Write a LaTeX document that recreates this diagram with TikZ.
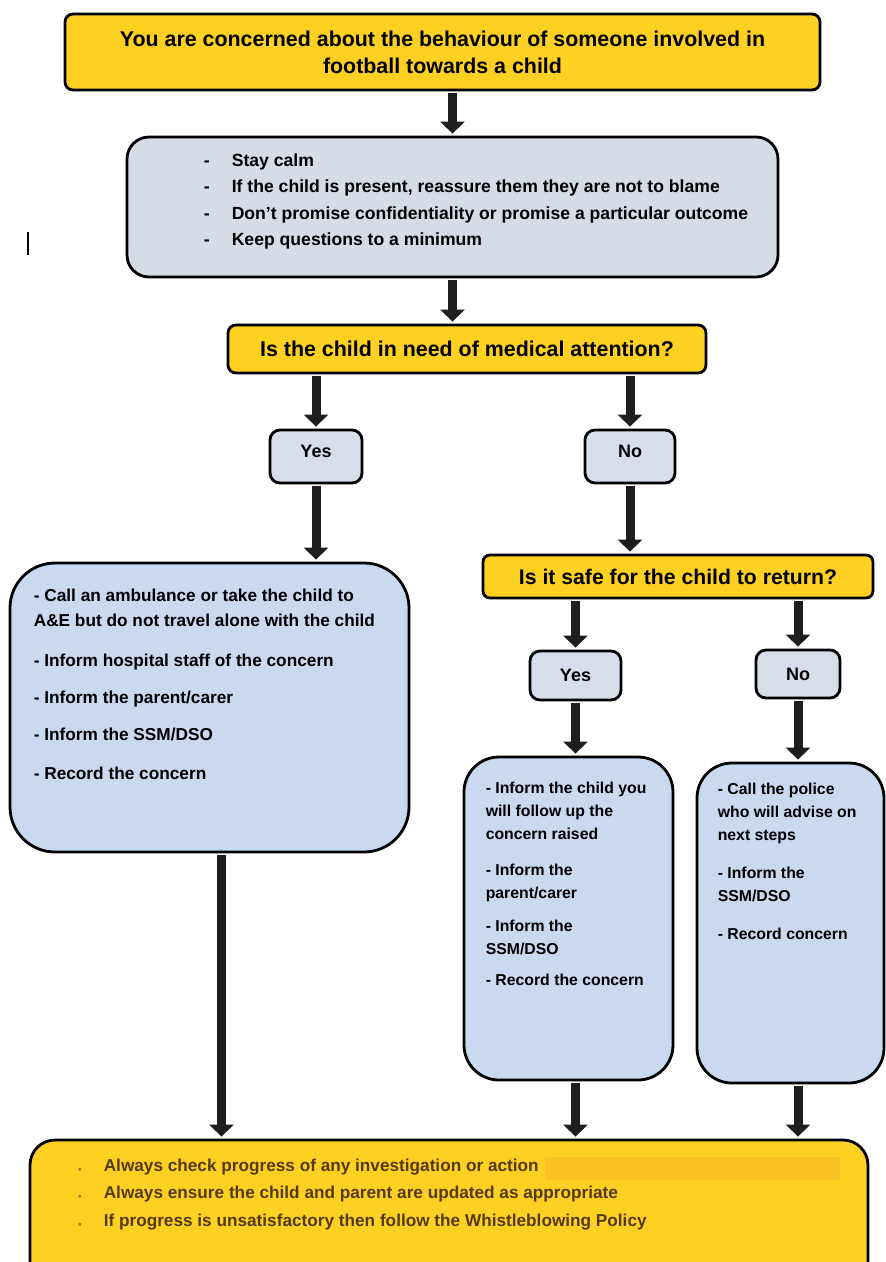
\documentclass[tikz,border=0pt]{standalone}
\usepackage{fontspec}
\setmainfont{Liberation Sans}
\usetikzlibrary{arrows.meta,positioning}
\definecolor{fayellow}{RGB}{254,208,34}
\definecolor{calmgrey}{RGB}{213,220,230}
\definecolor{stepblue}{RGB}{200,217,240}
\definecolor{answergrey}{RGB}{214,222,235}
\definecolor{arrowblack}{RGB}{30,30,30}
\definecolor{notebrown}{RGB}{85,58,22}
\definecolor{notebullet}{RGB}{205,95,25}
\definecolor{notemark}{RGB}{248,194,36}

\begin{document}
\begin{tikzpicture}[x=1pt, y=-1pt, font=\bfseries,
    shape box/.style={draw=black, line width=2.8pt, inner sep=0pt},
    question/.style={shape box, fill=fayellow, rounded corners=8pt},
    answer/.style={shape box, fill=answergrey, rounded corners=10pt, font=\bfseries\fontsize{18}{20}\selectfont},
    action/.style={shape box, fill=stepblue},
    boxtext/.style={anchor=north west, inner sep=0pt, align=left},
    flow/.style={-{Triangle[width=24pt,length=12pt]}, line width=9pt, color=arrowblack,
        shorten <=2pt, shorten >=2pt}]
    \useasboundingbox (0,0) rectangle (886,1262);
    \clip (0,0) rectangle (886,1262);
    \fill[white] (0,0) rectangle (886,1262);

    % concern and first steps
    \node [question, minimum width=755pt, minimum height=76pt, align=center,
        font=\bfseries\fontsize{21.4}{27}\selectfont] (concern) at (442.5,52)
        {You are concerned about the behaviour of someone involved in\\football towards a child};
    \node [shape box, fill=calmgrey, rounded corners=22pt, minimum width=651pt, minimum height=140pt] (calm) at (452.5,207) {};
    \node [boxtext, font=\bfseries\fontsize{17.6}{26.4}\selectfont] (calmtext) at ([xshift=78pt, yshift=-18pt]calm.north west)
        {\makebox[28pt][l]{-}Stay calm\\
         \makebox[28pt][l]{-}If the child is present, reassure them they are not to blame\\
         \makebox[28pt][l]{-}Don't promise confidentiality or promise a particular outcome\\
         \makebox[28pt][l]{-}Keep questions to a minimum};
    \draw [line width=2.5pt] (28,232) -- (28,255);

    % medical attention
    \node [question, minimum width=478pt, minimum height=48pt,
        font=\bfseries\fontsize{21.4}{24}\selectfont] (medical) at (467,349) {Is the child in need of medical attention?};
    \node [answer, minimum width=92pt, minimum height=53pt] (yes1) at (316,456.5) {\raisebox{10pt}{Yes}};
    \node [answer, minimum width=90pt, minimum height=53pt] (no1) at (630,456.5) {\raisebox{10pt}{No}};

    \node [action, rounded corners=45pt, minimum width=399pt, minimum height=289pt] (hospital) at (209.5,707.5) {};
    \node [boxtext, font=\bfseries\fontsize{17.25}{25}\selectfont] (hospitaltext) at ([xshift=25pt, yshift=-27pt]hospital.north west)
        {- Call an ambulance or take the child to\\
         A\&E but do not travel alone with the child\\[15pt]
         - Inform hospital staff of the concern\\[12pt]
         - Inform the parent/carer\\[12pt]
         - Inform the SSM/DSO\\[14pt]
         - Record the concern};

    % safe to return
    \node [question, rounded corners=7pt, minimum width=390pt, minimum height=43pt,
        font=\bfseries\fontsize{21.2}{24}\selectfont] (safe) at (678,576.5) {Is it safe for the child to return?};
    \node [answer, minimum width=91pt, minimum height=49pt] (yes2) at (575.5,675.5) {\raisebox{-1pt}{Yes}};
    \node [answer, minimum width=84pt, minimum height=48pt] (no2) at (798,674) {\raisebox{-1pt}{No}};

    \node [action, rounded corners=35pt, minimum width=209pt, minimum height=323pt] (followup) at (568.5,918.5) {};
    \node [boxtext, font=\bfseries\fontsize{15.8}{23}\selectfont] (followuptext) at ([xshift=23pt, yshift=-26pt]followup.north west)
        {- Inform the child you\\
         will follow up the\\
         concern raised\\[13pt]
         - Inform the\\
         parent/carer\\[10pt]
         - Inform the\\
         SSM/DSO\\[8pt]
         - Record the concern};
    \node [action, rounded corners=35pt, minimum width=187pt, minimum height=320pt] (police) at (790.5,923) {};
    \node [boxtext, font=\bfseries\fontsize{15.8}{23}\selectfont] (policetext) at ([xshift=22pt, yshift=-21pt]police.north west)
        {- Call the police\\
         who will advise on\\
         next steps\\[15pt]
         - Inform the\\
         SSM/DSO\\[15pt]
         - Record concern};

    % always
    \node [question, rounded corners=25pt, minimum width=838pt, minimum height=150pt] (always) at (449,1215) {};
    \fill [notemark] (545,1157) rectangle (840,1180);
    \node [boxtext, text=notebrown, font=\bfseries\fontsize{17.2}{27.5}\selectfont] (alwaystext) at ([xshift=49pt, yshift=-20pt]always.north west)
        {\makebox[26pt][l]{\textcolor{notebullet}{\scriptsize$\bullet$}}Always check progress of any investigation or action\\
         \makebox[26pt][l]{\textcolor{notebullet}{\scriptsize$\bullet$}}Always ensure the child and parent are updated as appropriate\\
         \makebox[26pt][l]{\textcolor{notebullet}{\scriptsize$\bullet$}}If progress is unsatisfactory then follow the Whistleblowing Policy};

    \path [flow] (concern.south -| calm.north) edge (calm.north);
    \path [flow] (calm.south) edge (calm.south |- medical.north);
    \path [flow] (medical.south -| yes1) edge (yes1.north);
    \path [flow] (medical.south -| no1) edge (no1.north);
    \path [flow] (yes1.south) edge (yes1.south |- hospital.north);
    \path [flow] (no1.south) edge (no1.south |- safe.north);
    \path [flow] (safe.south -| yes2) edge (yes2.north);
    \path [flow] (safe.south -| no2) edge (no2.north);
    \path [flow] (yes2.south) edge (yes2.south |- followup.north);
    \path [flow] (no2.south) edge (no2.south |- police.north);
    \path [flow] ([xshift=12pt]hospital.south) edge ([xshift=12pt]hospital.south |- always.north);
    \path [flow] (followup.south -| yes2) edge (yes2 |- always.north);
    \path [flow] (police.south -| no2) edge (no2 |- always.north);
\end{tikzpicture}
\end{document}
